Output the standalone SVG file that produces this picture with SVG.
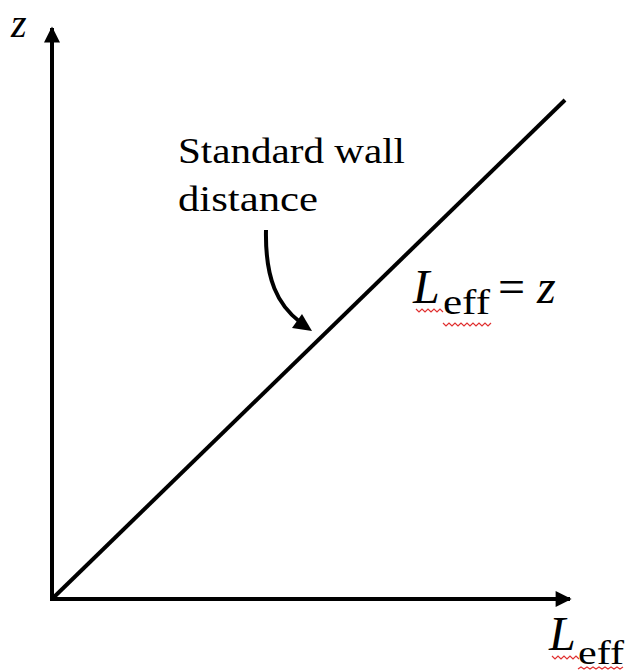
<svg xmlns="http://www.w3.org/2000/svg" width="630" height="671" viewBox="0 0 630 671">
<defs>
<style>
.ax{stroke:#000;stroke-width:4;fill:none}
.t{font-family:"Liberation Serif","Times New Roman",serif;fill:#000}
.i{font-style:italic}
.sq{stroke:#e03030;stroke-width:1.2;fill:none}
</style>
<marker id="ah" viewBox="0 0 10 10" refX="9" refY="5" markerWidth="5" markerHeight="4" markerUnits="strokeWidth" orient="auto">
<path d="M0,0 L10,5 L0,10 Z" fill="#000"/>
</marker>
</defs>
<rect width="630" height="671" fill="#fff"/>
<g id="connectors">
<line class="ax" x1="52" y1="601" x2="52" y2="28" marker-end="url(#ah)"/>
<line class="ax" x1="50" y1="599" x2="570" y2="599" marker-end="url(#ah)"/>
<line class="ax" x1="52" y1="599" x2="565" y2="100"/>
<path class="ax" d="M266,230 C265,280 278,305 300,322" stroke-width="3.5"/>
<path d="M312,331 L292,328 L302,314 Z" fill="#000"/>
</g>
<g id="label-z">
<text class="t i" x="11" y="37" font-size="40">z</text>
</g>
<g id="label-standard">
<text class="t" x="178" y="163" font-size="35" textLength="227" lengthAdjust="spacingAndGlyphs">Standard wall</text>
<text class="t" x="178" y="211" font-size="35" textLength="140" lengthAdjust="spacingAndGlyphs">distance</text>
</g>
<g id="label-leff-eq">
<text class="t i" x="413" y="303" font-size="48">L</text>
<text class="t" x="443" y="314" font-size="36" textLength="47" lengthAdjust="spacingAndGlyphs">eff</text>
<text class="t" x="498" y="303" font-size="48">=</text>
<text class="t i" x="537" y="303" font-size="48">z</text>
<path class="sq" d="M416,309 l3,3 l3,-3 l3,3 l3,-3 l3,3 l3,-3 l3,3 l3,-3 l3,3"/>
<path class="sq" d="M443,323 l3,3 l3,-3 l3,3 l3,-3 l3,3 l3,-3 l3,3 l3,-3 l3,3 l3,-3 l3,3 l3,-3 l3,3 l3,-3 l3,3 l3,-3"/>
</g>
<g id="label-leff">
<text class="t i" x="549" y="650" font-size="48">L</text>
<text class="t" x="578" y="664" font-size="34" textLength="46" lengthAdjust="spacingAndGlyphs">eff</text>
<path class="sq" d="M552,656 l3,3 l3,-3 l3,3 l3,-3 l3,3 l3,-3 l3,3 l3,-3 l3,3"/>
<path class="sq" d="M578,669 l3,-2 l3,2 l3,-2 l3,2 l3,-2 l3,2 l3,-2 l3,2 l3,-2 l3,2 l3,-2 l3,2 l3,-2 l3,2 l3,-2"/>
</g>
</svg>
